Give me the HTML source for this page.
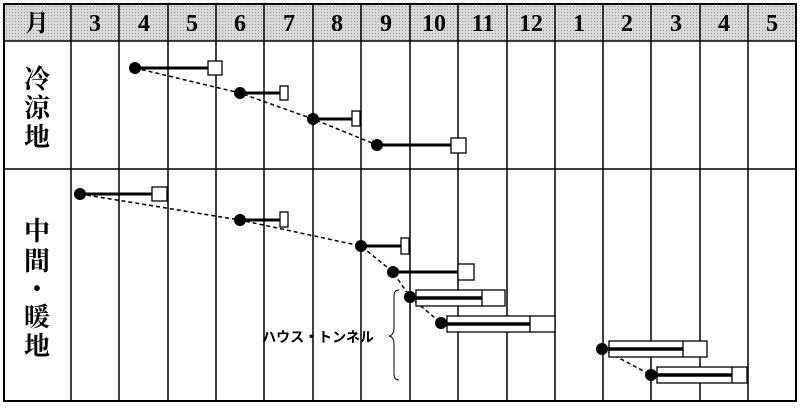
<!DOCTYPE html>
<html><head><meta charset="utf-8"><style>
body{margin:0;background:#fff;}
svg text{font-family:"Liberation Serif","Noto Serif CJK SC",serif;}
</style></head><body>
<svg width="800" height="403" viewBox="0 0 800 403" xmlns="http://www.w3.org/2000/svg">
<defs><pattern id="dots" width="3" height="3" patternUnits="userSpaceOnUse"><rect width="3" height="3" fill="#d8d8d8"/><rect width="1" height="1" fill="#9a9a9a"/></pattern></defs>
<rect x="4" y="4" width="792" height="37" fill="url(#dots)"/>
<g stroke="#000" stroke-width="1.5" fill="none">
<rect x="4" y="4" width="792" height="397" stroke-width="2"/>
<line x1="4" y1="41" x2="796" y2="41"/>
<line x1="4" y1="169" x2="796" y2="169"/>
<line x1="71" y1="4" x2="71" y2="401"/><line x1="119" y1="4" x2="119" y2="401"/><line x1="168" y1="4" x2="168" y2="401"/><line x1="216" y1="4" x2="216" y2="401"/><line x1="264" y1="4" x2="264" y2="401"/><line x1="313" y1="4" x2="313" y2="401"/><line x1="361" y1="4" x2="361" y2="401"/><line x1="410" y1="4" x2="410" y2="401"/><line x1="458" y1="4" x2="458" y2="401"/><line x1="507" y1="4" x2="507" y2="401"/><line x1="555" y1="4" x2="555" y2="401"/><line x1="603" y1="4" x2="603" y2="401"/><line x1="651" y1="4" x2="651" y2="401"/><line x1="700" y1="4" x2="700" y2="401"/><line x1="748" y1="4" x2="748" y2="401"/>
</g>
<g font-size="24" text-anchor="middle" fill="#000" font-weight="bold">
<text x="37" y="31">月</text><text x="95" y="31">3</text><text x="144" y="31">4</text><text x="192" y="31">5</text><text x="240" y="31">6</text><text x="289" y="31">7</text><text x="337" y="31">8</text><text x="386" y="31">9</text><text x="434" y="31">10</text><text x="483" y="31">11</text><text x="531" y="31">12</text><text x="579" y="31">1</text><text x="627" y="31">2</text><text x="676" y="31">3</text><text x="724" y="31">4</text><text x="772" y="31">5</text>
</g>
<g font-size="26" text-anchor="middle" font-weight="bold" style="font-family:'Noto Sans CJK JP',sans-serif">
<text x="37" y="88">冷</text><text x="37" y="117">涼</text><text x="37" y="146">地</text>
<text x="37" y="240">中</text><text x="37" y="270">間</text><text x="37" y="298">・</text><text x="37" y="326">暖</text><text x="37" y="355">地</text>
</g>
<text x="318" y="342" font-size="14" text-anchor="middle" font-weight="bold" style="font-family:'Noto Sans CJK JP',sans-serif">ハウス・トンネル</text>
<path d="M399 290 Q394 290 394 296 L394 328 Q394 335 389 336 Q394 337 394 344 L394 374 Q394 380 399 380" stroke="#000" stroke-width="1" fill="none"/>
<g stroke="#000" stroke-width="1.5" stroke-dasharray="4,3" fill="none">
<polyline points="135,68 240,93 313,119 377,145"/>
<polyline points="80,194 240,220 361,246 393,272 410,297 441,323"/>
<polyline points="602,349 651,375"/>
</g>
<g stroke="#000" stroke-width="3">
<line x1="135" y1="68" x2="208" y2="68"/><line x1="240" y1="93" x2="280" y2="93"/><line x1="313" y1="119" x2="352" y2="119"/><line x1="377" y1="145" x2="451" y2="145"/>
<line x1="80" y1="194" x2="152" y2="194"/><line x1="240" y1="220" x2="280" y2="220"/><line x1="361" y1="246" x2="401" y2="246"/><line x1="393" y1="272" x2="458" y2="272"/>
</g>
<g stroke="#000" stroke-width="1.3" fill="#fff">
<rect x="208" y="61" width="14" height="14"/><rect x="280" y="86" width="8" height="14"/><rect x="352" y="111" width="8" height="15"/><rect x="451" y="138" width="15" height="15"/>
<rect x="152" y="187" width="15" height="14"/><rect x="280" y="212" width="8" height="15"/><rect x="401" y="238" width="8" height="16"/><rect x="458" y="264" width="16" height="16"/>
<rect x="416" y="290" width="89" height="16"/><line x1="482" y1="290" x2="482" y2="306"/>
<rect x="447" y="316" width="108" height="16"/><line x1="530" y1="316" x2="530" y2="332"/>
<rect x="609" y="341" width="98" height="16"/><line x1="683" y1="341" x2="683" y2="357"/>
<rect x="657" y="367" width="90" height="16"/><line x1="732" y1="367" x2="732" y2="383"/>
</g>
<g stroke="#000" stroke-width="3.5">
<line x1="410" y1="298" x2="482" y2="298"/><line x1="441" y1="324" x2="530" y2="324"/><line x1="602" y1="349" x2="683" y2="349"/><line x1="651" y1="375" x2="732" y2="375"/>
</g>
<g fill="#000">
<circle cx="135" cy="68" r="6"/><circle cx="240" cy="93" r="6"/><circle cx="313" cy="119" r="6"/><circle cx="377" cy="145" r="6"/>
<circle cx="80" cy="194" r="6"/><circle cx="240" cy="220" r="6"/><circle cx="361" cy="246" r="6"/><circle cx="393" cy="272" r="6"/><circle cx="410" cy="297" r="6"/><circle cx="441" cy="323" r="6"/><circle cx="602" cy="349" r="6"/><circle cx="651" cy="375" r="6"/>
</g>
</svg>
</body></html>
